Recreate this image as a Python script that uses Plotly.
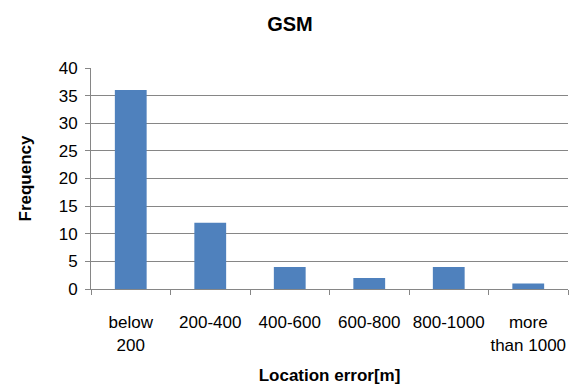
import plotly.graph_objects as go

categories = ["below<br>200", "200-400", "400-600", "600-800", "800-1000", "more<br>than 1000"]
frequency = [36, 12, 4, 2, 4, 1]
y_ticks = [0, 5, 10, 15, 20, 25, 30, 35, 40]

fig = go.Figure(go.Bar(x=categories, y=frequency, marker=dict(color="#4F81BD", line=dict(width=0)), width=0.4))

font = "Liberation Sans, Arial, sans-serif"
fig.update_layout(
    width=573, height=385,
    margin=dict(l=91, r=5, t=68, b=96),
    paper_bgcolor="white", plot_bgcolor="white",
    font=dict(family=font, color="#000000", size=17),
    title=dict(text="<b>GSM</b>", x=0.506, xanchor="center", y=0.938, yanchor="middle", font=dict(size=20)),
    showlegend=False,
)
fig.update_xaxes(
    showline=True, linecolor="#868686", linewidth=1,
    ticks="outside", ticklen=5, tickcolor="#868686",
    tickson="boundaries", showgrid=False, automargin=False,
    tickangle=0,
    tickfont=dict(size=17), ticklabelstandoff=18,
    title=dict(text="<b>Location error[m]</b>", font=dict(size=17), standoff=17),
)
fig.update_yaxes(
    range=[0, 40], tickvals=y_ticks, automargin=False,
    showline=True, linecolor="#868686", linewidth=1,
    ticks="outside", ticklen=5, tickcolor="#868686",
    showgrid=True, gridcolor="#868686", gridwidth=1,
    tickfont=dict(size=17), ticklabelstandoff=4,
    title=dict(text="<b>Frequency</b>", font=dict(size=17), standoff=22),
    zeroline=False,
)
fig.write_html("out.html", config={"displayModeBar": False},
               post_script="document.body.style.margin='0';")
